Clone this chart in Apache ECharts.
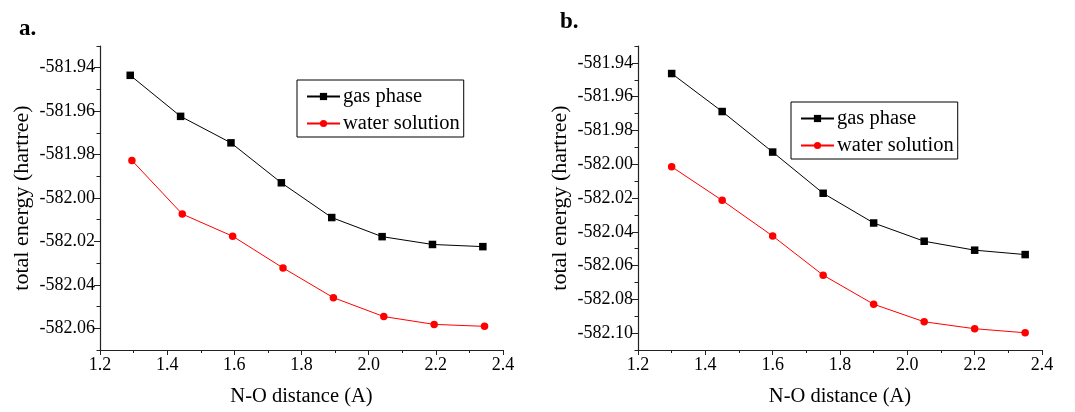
<!DOCTYPE html>
<html><head><meta charset="utf-8">
<script src="https://cdn.jsdelivr.net/npm/echarts@6/dist/echarts.min.js"></script>
<style>html,body{margin:0;padding:0;background:#fff}#c{width:1075px;height:412px}</style>
</head><body><div id="c"></div>
<script>
// Panel a data
const gasXA = [1.29, 1.44, 1.59, 1.74, 1.89, 2.04, 2.19, 2.34];
const gasYA = [-581.9435, -581.9624, -581.9746, -581.9930, -582.0090, -582.0178, -582.0214, -582.0224];
const watXA = [1.295, 1.445, 1.595, 1.745, 1.895, 2.045, 2.195, 2.345];
const watYA = [-581.9827, -582.0074, -582.0176, -582.0322, -582.0459, -582.0546, -582.0582, -582.0591];
// Panel b data
const gasXB = [1.30, 1.45, 1.60, 1.75, 1.90, 2.05, 2.20, 2.35];
const gasYB = [-581.9463, -581.9688, -581.9928, -582.0172, -582.0348, -582.0456, -582.0509, -582.0535];
const watXB = [1.30, 1.45, 1.60, 1.75, 1.90, 2.05, 2.20, 2.35];
const watYB = [-582.0015, -582.0214, -582.0425, -582.0657, -582.0829, -582.0933, -582.0974, -582.0998];
// Tick values
const yMajorA = [-582.06, -582.04, -582.02, -582.00, -581.98, -581.96, -581.94];
const yMinorA = [-582.07, -582.05, -582.03, -582.01, -581.99, -581.97, -581.95, -581.93];
const yMajorB = [-582.10, -582.08, -582.06, -582.04, -582.02, -582.00, -581.98, -581.96, -581.94];
const yMinorB = [-582.11, -582.09, -582.07, -582.05, -582.03, -582.01, -581.99, -581.97, -581.95, -581.93];
const seriesNames = ['gas phase', 'water solution'];
const xTitle = 'N-O distance (A)';
const yTitle = 'total energy (hartree)';

const FONT = '"Liberation Serif", "Times New Roman", serif';
const AX = '#222';
const zip = (xs, ys) => xs.map((x, i) => [x, ys[i]]);

function xAxis(gi) {
  return {
    type: 'value', gridIndex: gi, min: 1.2, max: 2.4, interval: 0.2,
    name: xTitle, nameLocation: 'middle', nameGap: 36,
    nameTextStyle: {fontFamily: FONT, fontSize: 20.5, color: '#000'},
    axisLine: {show: true, onZero: false, lineStyle: {color: AX, width: 1.2}},
    axisTick: {show: true, length: 5, lineStyle: {color: AX}},
    minorTick: {show: true, splitNumber: 2, length: 3, lineStyle: {color: AX}},
    splitLine: {show: false}, minorSplitLine: {show: false},
    axisLabel: {fontFamily: FONT, fontSize: 18, color: '#000', margin: 6,
      formatter: v => v.toFixed(1)}
  };
}
function yAxes(gi, min, max, major, minor) {
  return [{
    type: 'value', gridIndex: gi, min: min, max: max, position: 'left',
    name: yTitle, nameLocation: 'middle', nameGap: 67,
    nameTextStyle: {fontFamily: FONT, fontSize: 22, color: '#000'},
    axisLine: {show: true, onZero: false, lineStyle: {color: AX, width: 1.2}},
    axisTick: {show: true, length: 6, customValues: major, lineStyle: {color: AX}},
    splitLine: {show: false},
    axisLabel: {fontFamily: FONT, fontSize: 18, color: '#000', margin: 5,
      customValues: major, formatter: v => v.toFixed(2)}
  }, {
    type: 'value', gridIndex: gi, min: min, max: max, position: 'left',
    axisLine: {show: false},
    axisTick: {show: true, length: 3.5, customValues: minor, lineStyle: {color: AX}},
    splitLine: {show: false},
    axisLabel: {show: false}
  }];
}
function lineSeries(name, xi, yi, data, color, sym) {
  return {
    name: name, type: 'line', xAxisIndex: xi, yAxisIndex: yi, data: data,
    symbol: sym, symbolSize: 7.5, showSymbol: true,
    lineStyle: {color: color, width: 1},
    itemStyle: {color: color},
    animation: false
  };
}
function legend(left, top) {
  return {
    data: seriesNames, orient: 'vertical', left: left, top: top,
    borderColor: '#000', borderWidth: 1, padding: [6, 4, 3, 9],
    itemWidth: 33, itemHeight: 9, itemGap: 6,
    textStyle: {fontFamily: FONT, fontSize: 20.5, color: '#000', padding: [0, 0, 0, -2]},
    selectedMode: false
  };
}

const chart = echarts.init(document.getElementById('c'), null, {renderer: 'canvas'});
const ya = yAxes(0, -582.07, -581.93, yMajorA, yMinorA);
const yb = yAxes(1, -582.11, -581.93, yMajorB, yMinorB);
chart.setOption({
  backgroundColor: '#fff',
  animation: false,
  grid: [
    {left: 100, top: 46, width: 403, height: 305},
    {left: 638, top: 46, width: 404, height: 305}
  ],
  xAxis: [xAxis(0), xAxis(1)],
  yAxis: [ya[0], ya[1], yb[0], yb[1]],
  legend: [legend(297, 80), legend(791, 102)],
  title: [
    {text: 'a.', left: 14, top: 13, textStyle: {fontFamily: FONT, fontSize: 23, fontWeight: 'bold', color: '#000'}},
    {text: 'b.', left: 555, top: 6, textStyle: {fontFamily: FONT, fontSize: 23, fontWeight: 'bold', color: '#000'}}
  ],
  series: [
    lineSeries(seriesNames[0], 0, 0, zip(gasXA, gasYA), '#000', 'rect'),
    lineSeries(seriesNames[1], 0, 0, zip(watXA, watYA), '#ff0000', 'circle'),
    lineSeries(seriesNames[0], 1, 2, zip(gasXB, gasYB), '#000', 'rect'),
    lineSeries(seriesNames[1], 1, 2, zip(watXB, watYB), '#ff0000', 'circle')
  ]
});
</script></body></html>
